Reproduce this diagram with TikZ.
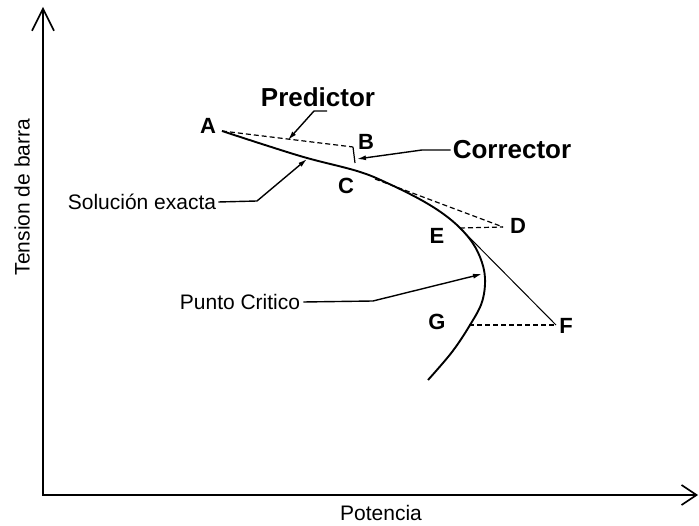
\documentclass[tikz,border=0pt]{standalone}
\usepackage{fontspec}
\setmainfont{Liberation Sans}
\usetikzlibrary{arrows.meta}
\begin{document}
\begin{tikzpicture}[x=1pt,y=-1pt,
  letter/.style={font=\fontsize{22}{22}\selectfont\bfseries, inner sep=0pt},
  big/.style={font=\fontsize{26}{26}\selectfont\bfseries, inner sep=0pt},
  txt/.style={font=\fontsize{21}{21}\selectfont, inner sep=0pt},
  lead/.style={line width=1.4pt, -{Latex[length=9pt,width=5pt]}},
  dsh/.style={line width=1.2pt, dash pattern=on 5pt off 3pt},
  axisline/.style={line width=1.6pt},
  curve/.style={line width=1.9pt}]
\useasboundingbox (0,0) rectangle (699,526);

% axes
\coordinate (O) at (43,495);
\coordinate (Ytop) at (43,7);
\coordinate (Xend) at (698,495);
\draw[axisline,{Straight Barb[length=22pt,width=22pt]}-{Straight Barb[length=15pt,width=20pt]}] (Ytop) -- (O) -- (Xend);
\node[txt, rotate=90] (ylab) at (22,197) {Tension de barra};
\node[txt] (xlab) at (381,513) {Potencia};

% exact solution curve
\draw[curve] plot[smooth, tension=0.6] coordinates {(222,131) (265,145) (307,158) (357,171) (385,182) (423,201) (450,219) (469,238) (480,257) (485,278) (482,302) (470,325) (452,352) (428,380)};

% key points
\coordinate (pA) at (222,131);
\coordinate (pB) at (353,147);
\coordinate (pBc) at (355,163);
\coordinate (pC) at (375,179);
\coordinate (pD) at (503,227);
\coordinate (pE) at (460,228);
\coordinate (pF) at (556,325);
\coordinate (pG) at (469,325);
\coordinate (pS) at (307,159);
\coordinate (pPC) at (482,274);
\coordinate (pPred) at (288,140);
\coordinate (pCorr) at (357,159);

% predictor / corrector lines
\draw[dsh] (pA) -- (pB);
\draw[line width=1.2pt] (pB) -- (pBc);
\draw[dsh] (pC) -- (pD);
\draw[dsh] (pE) -- (pD);
\draw[line width=1pt] (pE) -- (pF);
\draw[dsh] (pG) -- (pF);

% point labels
\node[letter] (A) at (208,126) {A};
\node[letter] (B) at (366,142) {B};
\node[letter] (C) at (346,186) {C};
\node[letter] (D) at (518,226) {D};
\node[letter] (E) at (437,236) {E};
\node[letter] (F) at (566,326) {F};
\node[letter] (G) at (437,322) {G};

% callouts
\node[big] (pred) at (318,97) {Predictor};
\node[big] (corr) at (512,150) {Corrector};
\node[txt] (sol) at (142,202) {Solución exacta};
\node[txt] (pc) at (240,302) {Punto Critico};

\coordinate (k1) at (327,111);
\coordinate (k2) at (314,111);
\draw[lead] (k1) -- (k2) -- (pPred);

\coordinate (k3) at (422,150);
\draw[lead] ([xshift=-2pt]corr.west) -- (k3) -- (pCorr);

\coordinate (k4) at (257,201);
\draw[lead] ([xshift=2pt]sol.east) -- (k4) -- (pS);

\coordinate (k5) at (373,301);
\draw[lead] ([xshift=3pt]pc.east) -- (k5) -- (pPC);
\end{tikzpicture}
\end{document}
